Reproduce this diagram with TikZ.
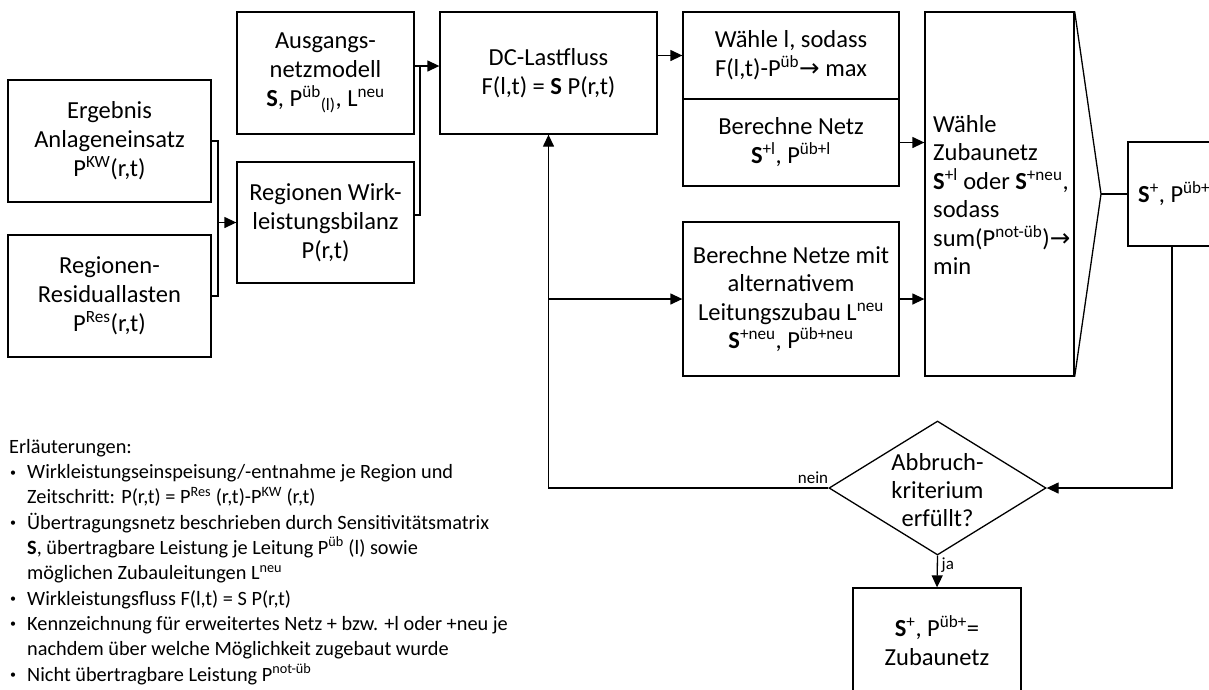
\documentclass[tikz,border=0pt]{standalone}
\usepackage{fontspec}
\setmainfont{Carlito}
\newfontfamily\arrowfont{DejaVu Sans}
\usetikzlibrary{shapes.geometric,arrows.meta}
\newcommand{\ra}{{\arrowfont →}}
\newcommand{\Sb}{\textbf{S}}
\newcommand{\sups}[1]{\textsuperscript{#1}}
\newcommand{\bul}{\makebox[18pt][l]{\hspace{1pt}\raisebox{2.5pt}{\fontsize{12}{12}\selectfont\textbullet}}}
\newcommand{\cont}{\hspace*{18pt}}
\begin{document}
\begin{tikzpicture}[x=1pt,y=-1pt,
  box/.style={draw, line width=1.3pt, inner sep=0pt, align=center,
    font=\fontsize{24.5}{29}\selectfont},
  txt/.style={inner sep=0pt, font=\fontsize{24.5}{28.5}\selectfont},
  conn/.style={line width=1.3pt},
  arr/.style={line width=1.3pt, -{Triangle[length=12pt,width=11pt]}},
  lbl/.style={inner sep=1pt, font=\fontsize{17}{19}\selectfont}]
\useasboundingbox (0,0) rectangle (1209,689);
\clip (0,0) rectangle (1209,689);

% input boxes
\node[box, minimum width=203pt, minimum height=122pt] (erg) at (109.5,141)
  {Ergebnis\\Anlageneinsatz\\P\sups{KW}(r,t)};
\node[box, minimum width=203pt, minimum height=122pt] (res) at (109.5,296)
  {Regionen-\\Residuallasten\\P\sups{Res}(r,t)};
\node[box, minimum width=177pt, minimum height=122pt] (aus) at (325.5,73)
  {Ausgangs-\\netzmodell\\\Sb, P\sups{üb}\textsubscript{(l)}, L\sups{neu}};
\node[box, minimum width=177pt, minimum height=121pt] (wirk) at (325.5,222.5)
  {Regionen Wirk-\\leistungsbilanz\\P(r,t)};

% load flow and line selection
\node[box, minimum width=217pt, minimum height=122pt] (dc) at (548.5,73)
  {DC-Lastfluss\\F(l,t) = \Sb{} P(r,t)};
\node[box, minimum width=216pt, minimum height=87pt] (wahl) at (791,55.5)
  {Wähle l, sodass\\F(l,t)-P\sups{üb}\ra{} max};
\node[box, minimum width=216pt, minimum height=87pt] (bnetz) at (791,142.5)
  {Berechne Netz\\\Sb\sups{+l}, P\sups{üb+l}};
\node[box, minimum width=216pt, minimum height=154pt,
  font=\fontsize{24.5}{28.5}\selectfont] (bnetze) at (791,299)
  {Berechne Netze mit\\alternativem\\Leitungszubau L\sups{neu}\\\Sb\sups{+neu}, P\sups{üb+neu}};

% choice of the extended network
\node[box, minimum width=149pt, minimum height=364pt] (zub) at (999.5,194) {};
\node[txt, anchor=west, align=left] (zubtxt) at (933,195)
  {Wähle\\Zubaunetz\\\Sb\sups{+l} oder \Sb\sups{+neu},\\sodass\\sum(P\sups{not-üb})\ra\\min};
\node[box, minimum width=130pt, minimum height=104pt] (splus) at (1193,194) {};
\node[txt, anchor=west] (splustxt) at (1138,194) {\Sb\sups{+}, P\sups{üb+}};

% stop criterion and result
\node[draw, diamond, line width=1.3pt, minimum width=217pt, minimum height=134pt,
  inner sep=0pt] (dec) at (937.5,488) {};
\node[txt, align=center, font=\fontsize{24.5}{28}\selectfont] (dectxt) at (937.5,490)
  {Abbruch-\\kriterium\\erfüllt?};
\node[box, minimum width=168pt, minimum height=106pt] (fin) at (937,641)
  {\Sb\sups{+}, P\sups{üb+}=\\Zubaunetz};

% connectors
\coordinate (j1) at (218,222.5);
\draw[conn] (erg.east) -| (j1);
\draw[conn] (res.east) -| (j1);
\draw[arr] (j1) -- (wirk.west);

\coordinate (j2) at (420,66);
\draw[conn] (aus.east |- j2) -- (j2);
\draw[conn] (wirk.east |- 0,215) -| (j2);
\draw[arr] (j2) -- (dc.west |- j2);

\draw[arr] (dc.east |- wahl.west) -- (wahl.west);
\draw[arr] (bnetz.east) -- (zub.west |- bnetz.east);
\draw[arr] (bnetze.east) -- (zub.west |- bnetze.east);

\coordinate (mrg) at (1101,194);
\draw[conn] (zub.north east) -- (mrg) -- (zub.south east);
\draw[conn] (mrg) -- (splus.west);

\coordinate (c1) at (1172,488);
\draw[arr] (splus.south -| c1) |- (dec.east);
\draw[arr] (dec.west) -| (dc.south);
\draw[arr] (dc.south |- bnetze.west) -- (bnetze.west);
\draw[arr] (dec.south) -- (fin.north);
\node[lbl, anchor=south east] (nein) at ([xshift=1pt,yshift=3pt]dec.west) {nein};
\node[lbl, anchor=north west] (ja) at ([xshift=3pt,yshift=-1pt]dec.south) {ja};

% explanations
\node[anchor=north west, align=left, inner sep=0pt,
  font=\fontsize{20.3}{25.3}\selectfont] (legend) at (9,439)
  {Erläuterungen:\\
  \bul Wirkleistungseinspeisung/-entnahme je Region und\\
  \cont Zeitschritt: P(r,t) = P\sups{Res} (r,t)-P\sups{KW} (r,t)\\
  \bul Übertragungsnetz beschrieben durch Sensitivitätsmatrix\\
  \cont\Sb, übertragbare Leistung je Leitung P\sups{üb} (l) sowie\\
  \cont möglichen Zubauleitungen L\sups{neu}\\
  \bul Wirkleistungsfluss F(l,t) = S P(r,t)\\
  \bul Kennzeichnung für erweitertes Netz + bzw. +l oder +neu je\\
  \cont nachdem über welche Möglichkeit zugebaut wurde\\
  \bul Nicht übertragbare Leistung P\sups{not-üb}};
\end{tikzpicture}
\end{document}
